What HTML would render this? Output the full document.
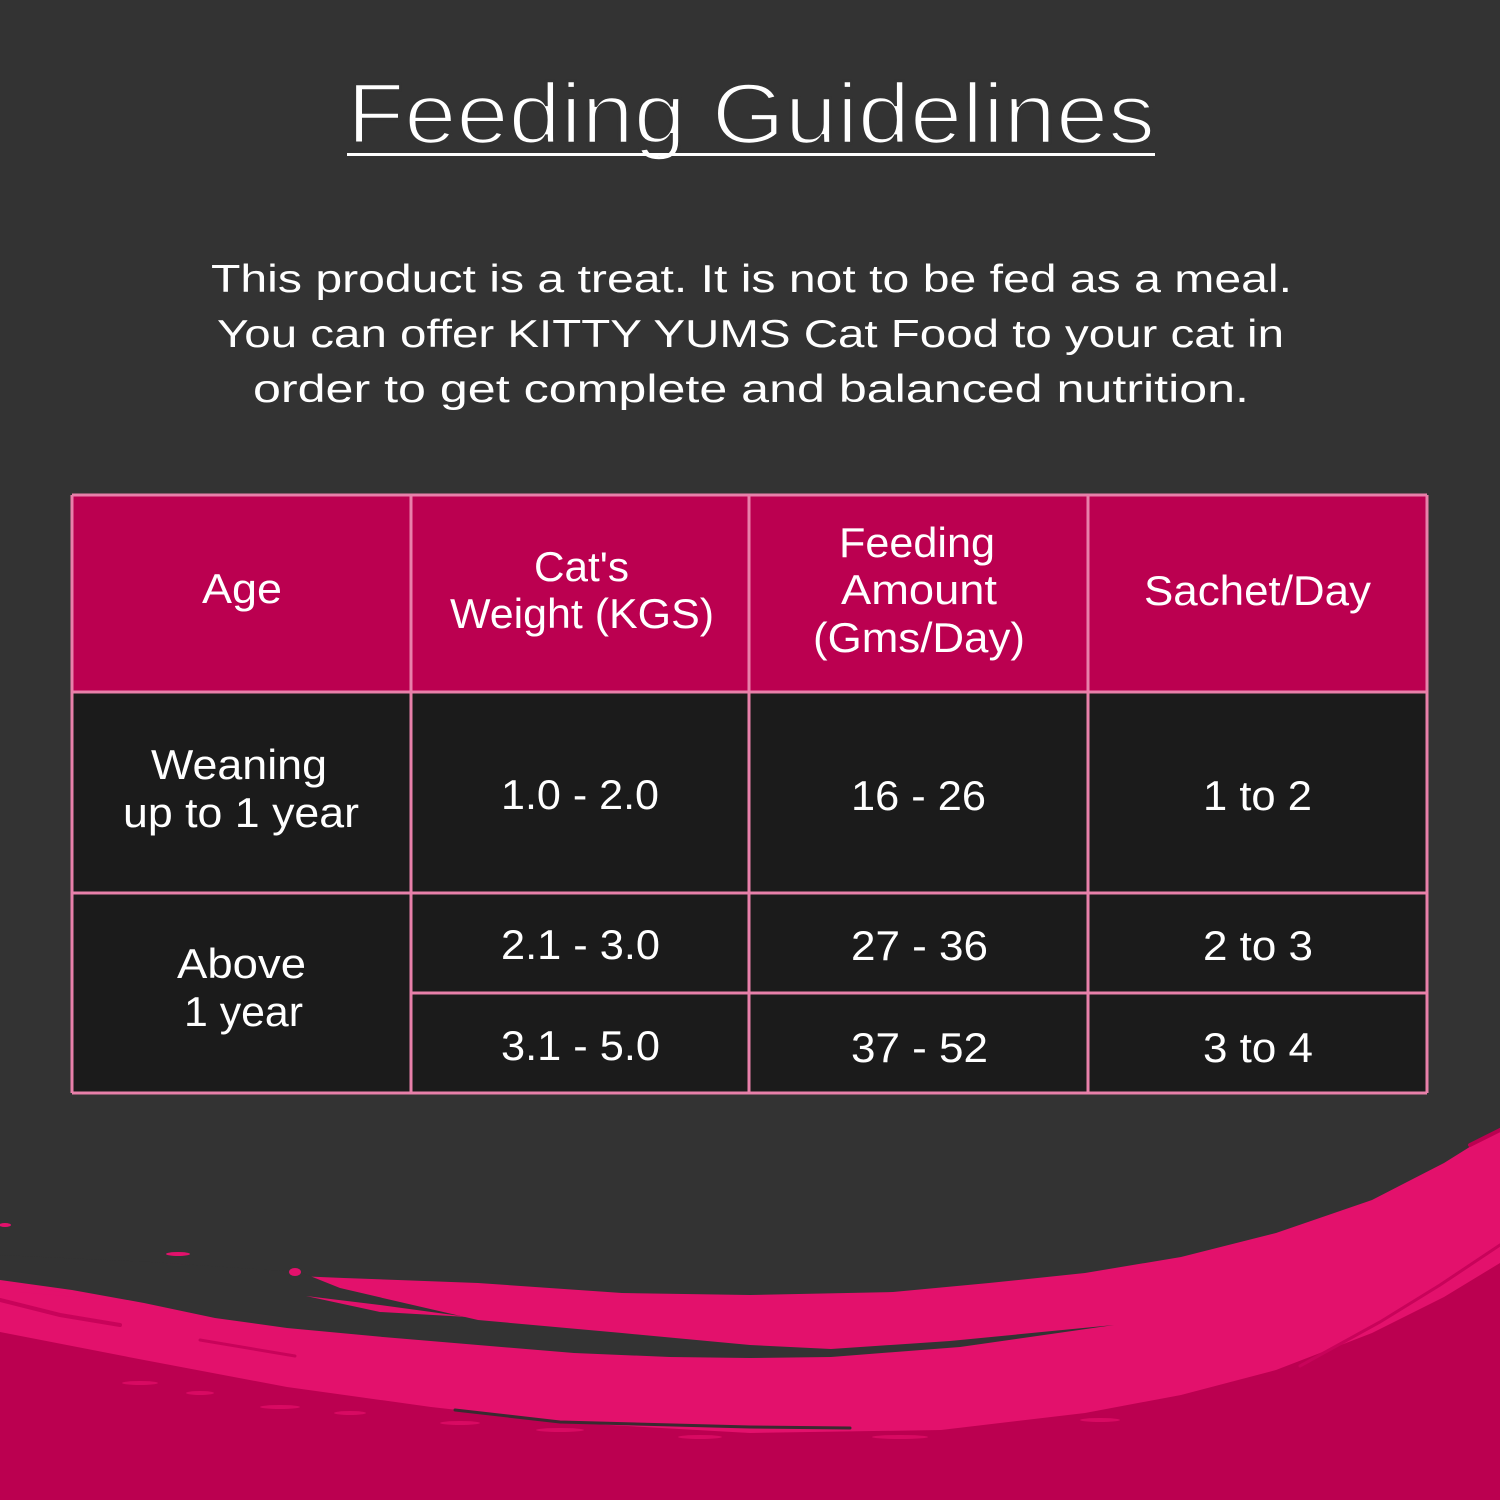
<!DOCTYPE html>
<html>
<head>
<meta charset="utf-8">
<style>
  html,body{margin:0;padding:0;background:#333333;}
  svg{display:block;}
  text{font-family:"Liberation Sans",sans-serif;fill:#ffffff;}
</style>
</head>
<body>
<svg width="1500" height="1500" viewBox="0 0 1500 1500" xmlns="http://www.w3.org/2000/svg">
  <rect x="0" y="0" width="1500" height="1500" fill="#333333"/>

  <!-- Title -->
  <text x="347" y="143" font-size="85" textLength="808" lengthAdjust="spacingAndGlyphs" stroke="#333333" stroke-width="2.6">Feeding Guidelines</text>
  <rect x="347" y="153" width="808" height="3" fill="#ffffff"/>

  <!-- Paragraph -->
  <text x="211" y="292" font-size="39" textLength="1081" lengthAdjust="spacingAndGlyphs">This product is a treat. It is not to be fed as a meal.</text>
  <text x="217" y="347" font-size="39" textLength="1067" lengthAdjust="spacingAndGlyphs">You can offer KITTY YUMS Cat Food to your cat in</text>
  <text x="253" y="402" font-size="39" textLength="996" lengthAdjust="spacingAndGlyphs">order to get complete and balanced nutrition.</text>

  <!-- Table backgrounds -->
  <rect x="72" y="495" width="1355" height="197" fill="#bb0050"/>
  <rect x="72" y="692" width="1355" height="401" fill="#1b1b1b"/>

  <!-- Table borders -->
  <g stroke="#e880aa" stroke-width="3" fill="none">
    <line x1="72" y1="495" x2="1427" y2="495"/>
    <line x1="72" y1="692" x2="1427" y2="692"/>
    <line x1="72" y1="893" x2="1427" y2="893"/>
    <line x1="411" y1="993" x2="1427" y2="993"/>
    <line x1="72" y1="1093" x2="1427" y2="1093"/>
    <line x1="72" y1="495" x2="72" y2="1093"/>
    <line x1="411" y1="495" x2="411" y2="1093"/>
    <line x1="749" y1="495" x2="749" y2="1093"/>
    <line x1="1088" y1="495" x2="1088" y2="1093"/>
    <line x1="1427" y1="495" x2="1427" y2="1093"/>
  </g>

  <!-- Header text -->
  <text x="202" y="603" font-size="42" textLength="80" lengthAdjust="spacingAndGlyphs">Age</text>
  <text x="534" y="581" font-size="42" textLength="95" lengthAdjust="spacingAndGlyphs">Cat's</text>
  <text x="450" y="628" font-size="42" textLength="264" lengthAdjust="spacingAndGlyphs">Weight (KGS)</text>
  <text x="839" y="557" font-size="42" textLength="156" lengthAdjust="spacingAndGlyphs">Feeding</text>
  <text x="841" y="604" font-size="42" textLength="156" lengthAdjust="spacingAndGlyphs">Amount</text>
  <text x="813" y="652" font-size="42" textLength="212" lengthAdjust="spacingAndGlyphs">(Gms/Day)</text>
  <text x="1144" y="605" font-size="42" textLength="227" lengthAdjust="spacingAndGlyphs">Sachet/Day</text>

  <!-- Body text -->
  <text x="151" y="779" font-size="42" textLength="176" lengthAdjust="spacingAndGlyphs">Weaning</text>
  <text x="123" y="827" font-size="42" textLength="236" lengthAdjust="spacingAndGlyphs">up to 1 year</text>
  <text x="501" y="809" font-size="42" textLength="158" lengthAdjust="spacingAndGlyphs">1.0 - 2.0</text>
  <text x="851" y="810" font-size="42" textLength="135" lengthAdjust="spacingAndGlyphs">16 - 26</text>
  <text x="1203" y="810" font-size="42" textLength="109" lengthAdjust="spacingAndGlyphs">1 to 2</text>

  <text x="177" y="978" font-size="42" textLength="129" lengthAdjust="spacingAndGlyphs">Above</text>
  <text x="184" y="1026" font-size="42" textLength="119" lengthAdjust="spacingAndGlyphs">1 year</text>
  <text x="501" y="959" font-size="42" textLength="159" lengthAdjust="spacingAndGlyphs">2.1 - 3.0</text>
  <text x="851" y="960" font-size="42" textLength="137" lengthAdjust="spacingAndGlyphs">27 - 36</text>
  <text x="1203" y="960" font-size="42" textLength="110" lengthAdjust="spacingAndGlyphs">2 to 3</text>
  <text x="501" y="1060" font-size="42" textLength="159" lengthAdjust="spacingAndGlyphs">3.1 - 5.0</text>
  <text x="851" y="1062" font-size="42" textLength="137" lengthAdjust="spacingAndGlyphs">37 - 52</text>
  <text x="1203" y="1062" font-size="42" textLength="110" lengthAdjust="spacingAndGlyphs">3 to 4</text>

  <!-- Brush swoosh -->
  <path fill="#e3116c" d="M1500,1128 L1444,1163 L1372,1200 L1276,1233 L1181,1257 L1085,1273 L989,1283 L893,1292 L750,1295 L622,1293 L478,1283 L344,1278 L200,1272 L0,1268 L0,1500 L1500,1500 Z"/>
  <path fill="#333333" d="M0,1255 L150,1262 L300,1272 L340,1288 L400,1302 L478,1320 L622,1333 L750,1345 L831,1349 L950,1341 L1114,1325 L960,1347 L831,1357 L750,1358 L670,1357 L574,1353 L478,1345 L383,1337 L287,1328 L215,1318 L144,1303 L72,1290 L0,1280 Z"/>
  <!-- small pink specks in the dark area -->
  <g fill="#e3116c">
    <ellipse cx="5" cy="1225" rx="6" ry="2"/>
    <ellipse cx="178" cy="1254" rx="12" ry="2"/>
    <ellipse cx="295" cy="1272" rx="6" ry="4"/>
    <path d="M306,1296 L380,1305 L468,1317 L380,1312 Z"/>
    <path d="M0,1282 L60,1292 L110,1300 L20,1292 Z"/>
  </g>
  <path fill="#bb0050" d="M0,1332 L144,1360 L287,1387 L431,1407 L574,1423 L750,1433 L941,1430 L1085,1413 L1181,1395 L1276,1370 L1372,1333 L1444,1297 L1500,1263 L1500,1500 L0,1500 Z"/>
  <!-- darker streaks -->
  <g fill="none" stroke-linecap="round">
    <path d="M0,1300 L60,1315 L120,1325" stroke="#c8035a" stroke-width="4"/>
    <path d="M200,1340 L295,1356" stroke="#c8035a" stroke-width="3"/>
    <path d="M455,1410 L560,1422 L750,1427 L850,1428" stroke="#3a2a30" stroke-width="3"/>
    <path d="M1300,1366 L1380,1322 L1440,1285 L1500,1245" stroke="#c8035a" stroke-width="3"/>
    <path d="M1470,1145 L1500,1130" stroke="#bb0050" stroke-width="4"/>
  </g>
  <!-- lighter specks in dark pink -->
  <g fill="#d80a62">
    <ellipse cx="140" cy="1383" rx="18" ry="2"/>
    <ellipse cx="200" cy="1393" rx="14" ry="2"/>
    <ellipse cx="280" cy="1407" rx="20" ry="2"/>
    <ellipse cx="350" cy="1413" rx="16" ry="2"/>
    <ellipse cx="460" cy="1423" rx="20" ry="2"/>
    <ellipse cx="560" cy="1430" rx="24" ry="2"/>
    <ellipse cx="700" cy="1437" rx="22" ry="2"/>
    <ellipse cx="900" cy="1437" rx="28" ry="2"/>
    <ellipse cx="1100" cy="1420" rx="20" ry="2"/>
  </g>
</svg>
</body>
</html>
